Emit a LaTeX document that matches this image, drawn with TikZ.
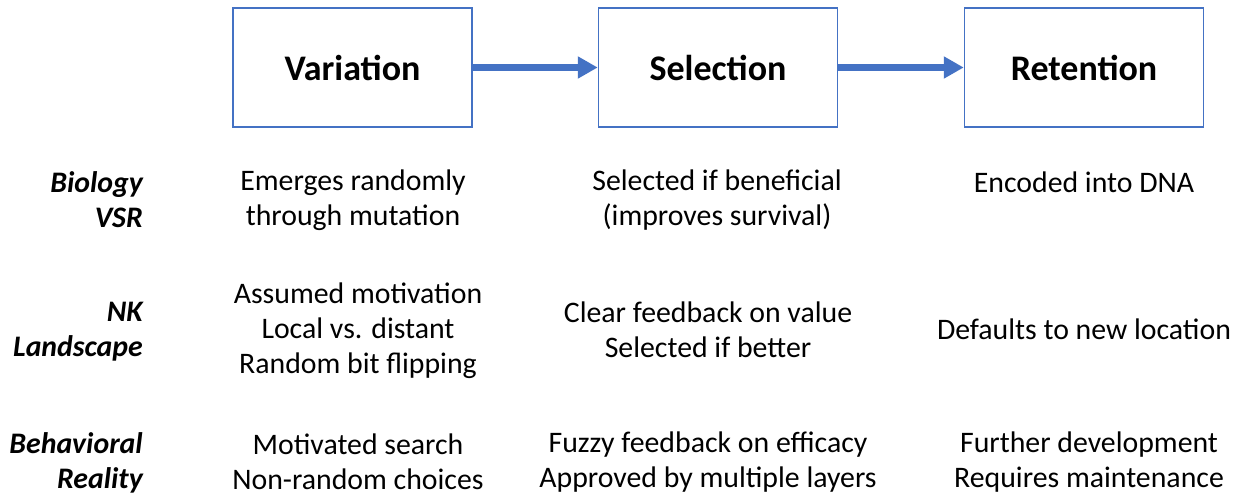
\documentclass[tikz,border=0pt]{standalone}
\usepackage{fontspec}
\setmainfont{Carlito}
\usetikzlibrary{arrows.meta}
\definecolor{officeblue}{HTML}{4472C4}
\begin{document}
\begin{tikzpicture}[x=1pt,y=-1pt,
  stagebox/.style={draw=officeblue,line width=1.5pt,minimum width=239pt,minimum height=119pt,inner sep=0pt,
    font=\fontsize{36}{42}\selectfont\bfseries},
  flow/.style={officeblue,line width=6.5pt,-{Triangle[length=20pt,width=21pt]}},
  cell/.style={align=center,inner sep=0pt,font=\fontsize{29.8}{35}\selectfont},
  rowlabel/.style={align=right,anchor=east,inner sep=0pt,font=\fontsize{29.8}{35}\selectfont\bfseries\itshape}]
\useasboundingbox (0,0) rectangle (1244,495);

% stage boxes
\node[stagebox] (var) at (352.5,67.5) {Variation};
\node[stagebox] (sel) at (718,67.5) {Selection};
\node[stagebox] (ret) at (1084,67.5) {Retention};
\draw[flow] (var.east) -- (sel.west);
\draw[flow] (sel.east) -- (ret.west);

% row labels
\node[rowlabel] (lbio) at (143,200) {Biology\\VSR};
\node[rowlabel] (lnk) at (143,332) {NK\\Landscape};
\node[rowlabel] (lbeh) at (143,462.5) {Behavioral\\Reality};

% biology row
\node[cell] (b1) at (353,200.5) {Emerges randomly\\through mutation};
\node[cell] (b2) at (717,200) {Selected if beneficial\\(improves survival)};
\node[cell] (b3) at (1084,182) {Encoded into DNA};

% NK landscape row
\node[cell] (n1) at (358,330.5) {Assumed motivation\\Local vs. distant\\Random bit flipping};
\node[cell] (n2) at (708,330) {Clear feedback on value\\Selected if better};
\node[cell] (n3) at (1084,329.5) {Defaults to new location};

% behavioral reality row
\node[cell] (r1) at (358,462) {Motivated search\\Non-random choices};
\node[cell] (r2) at (708,462) {Fuzzy feedback on efficacy\\Approved by multiple layers};
\node[cell] (r3) at (1089,462) {Further development\\Requires maintenance};
\end{tikzpicture}
\end{document}
